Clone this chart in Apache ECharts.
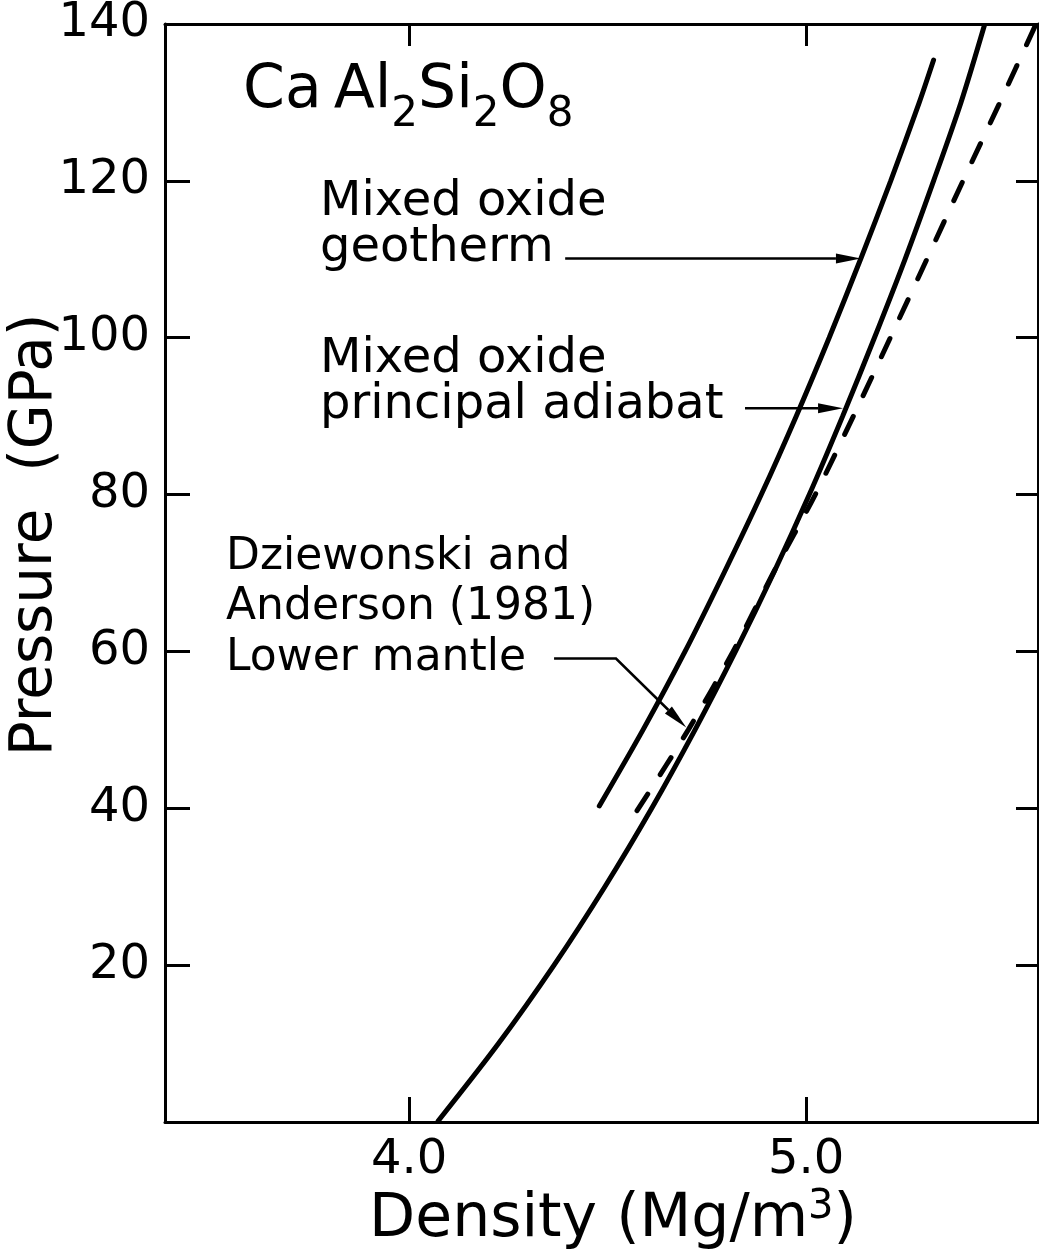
<!DOCTYPE html>
<html>
<head>
<meta charset="utf-8">
<title>CaAl2Si2O8 density vs pressure</title>
<script src="https://cdn.jsdelivr.net/npm/echarts@6/dist/echarts.min.js"></script>
<style>
  html, body { margin: 0; padding: 0; background: #fff; }
  #chart { width: 1039px; height: 1254px; }
</style>
</head>
<body>
<div id="chart"></div>
<script>
// Mixed oxide principal adiabat (Mg/m^3, GPa)
const adiabatDensity  = [4.071, 4.225, 4.365, 4.493, 4.611, 4.720, 4.822, 4.918, 5.008, 5.092, 5.172, 5.249, 5.321, 5.390, 5.450];
const adiabatPressure = [0,     10,    20,    30,    40,    50,    60,    70,    80,    90,    100,   110,   120,   130,   140];

// Mixed oxide geotherm
const geothermDensity  = [4.479, 4.589, 4.695, 4.793, 4.887, 4.975, 5.058, 5.137, 5.213, 5.285, 5.321];
const geothermPressure = [40.3,  50,    60,    70,    80,    90,    100,   110,   120,   130,   135.4];

// Dziewonski and Anderson (1981) lower mantle
const mantleDensity  = [4.574, 4.703, 4.816, 4.917, 5.023, 5.119, 5.212, 5.304, 5.395, 5.488, 5.579];
const mantlePressure = [39.7,  50,    60,    70,    80,    90,    100,   110,   120,   130,   140];

// Axis ticks
const densityTicks  = [4.0, 5.0];
const pressureTicks = [20, 40, 60, 80, 100, 120, 140];

// Leader arrows for the labels (data coordinates, last point is the tip)
const geothermArrow = [[4.393, 110.1], [5.138, 110.1]];
const adiabatArrow  = [[4.846, 91.0], [5.093, 91.0]];
const mantleArrow   = [[4.365, 59.1], [4.521, 59.1], [4.698, 50.3]];
const arrowPaths = [geothermArrow, adiabatArrow, mantleArrow];

const FONT = 'DejaVu Sans';
const zip = (xs, ys) => xs.map((x, i) => [x, ys[i]]);

const chart = echarts.init(document.getElementById('chart'), null, { renderer: 'canvas' });

const xRange = { min: 3.385, max: 5.584 };
const yRange = { min: 0, max: 140, interval: 20 };
const axisLine = { show: true, onZero: false, lineStyle: { color: '#000', width: 3 } };

chart.setOption({
  backgroundColor: '#fff',
  animation: false,
  grid: { left: 165, top: 22, right: 1, bottom: 132, containLabel: false },
  xAxis: [
    {
      type: 'value', position: 'bottom', ...xRange,
      axisLine,
      splitLine: { show: false },
      axisTick: { show: true, inside: true, length: 25, customValues: densityTicks, lineStyle: { color: '#000', width: 3 } },
      axisLabel: { show: true, customValues: densityTicks, margin: 15, color: '#000', fontFamily: FONT, fontSize: 48,
                   formatter: v => v.toFixed(1) }
    },
    {
      type: 'value', position: 'top', ...xRange,
      axisLine,
      splitLine: { show: false },
      axisTick: { show: true, inside: true, length: 22, customValues: densityTicks, lineStyle: { color: '#000', width: 3 } },
      axisLabel: { show: false }
    }
  ],
  yAxis: [
    {
      type: 'value', position: 'left', ...yRange,
      axisLine,
      splitLine: { show: false },
      axisTick: { show: true, inside: true, length: 25, customValues: pressureTicks, lineStyle: { color: '#000', width: 3 } },
      axisLabel: { show: true, customValues: pressureTicks, margin: 15, color: '#000', fontFamily: FONT, fontSize: 48 }
    },
    {
      type: 'value', position: 'right', ...yRange,
      axisLine,
      splitLine: { show: false },
      axisTick: { show: true, inside: true, length: 22, customValues: pressureTicks, lineStyle: { color: '#000', width: 3 } },
      axisLabel: { show: false }
    }
  ],
  series: [
    {
      name: 'Mixed oxide principal adiabat', type: 'line', xAxisIndex: 0, yAxisIndex: 0,
      data: zip(adiabatDensity, adiabatPressure),
      showSymbol: false, smooth: 0.3, clip: true,
      lineStyle: { color: '#000', width: 5 }
    },
    {
      name: 'Mixed oxide geotherm', type: 'line', xAxisIndex: 0, yAxisIndex: 0,
      data: zip(geothermDensity, geothermPressure),
      showSymbol: false, smooth: 0.3,
      lineStyle: { color: '#000', width: 5, cap: 'round' }
    },
    {
      name: 'Dziewonski and Anderson (1981) lower mantle', type: 'line', xAxisIndex: 0, yAxisIndex: 0,
      data: zip(mantleDensity, mantlePressure),
      showSymbol: false, smooth: 0.3, clip: false,
      lineStyle: { color: '#000', width: 5, type: [20, 23], cap: 'round' }
    },
    {
      name: 'leaders', type: 'custom', coordinateSystem: 'cartesian2d', xAxisIndex: 0, yAxisIndex: 0,
      data: arrowPaths.map(p => p[0]),
      clip: false, silent: true,
      renderItem(params, api) {
        const pts = arrowPaths[params.dataIndex].map(p => api.coord(p));
        const n = pts.length;
        const [tx, ty] = pts[n - 1];
        const [px, py] = pts[n - 2];
        const ang = Math.atan2(ty - py, tx - px);
        const headLen = 25, halfW = 5;
        const bx = tx - headLen * Math.cos(ang), by = ty - headLen * Math.sin(ang);
        const nx = -Math.sin(ang) * halfW, ny = Math.cos(ang) * halfW;
        return {
          type: 'group',
          children: [
            { type: 'polyline', shape: { points: pts.slice(0, -1).concat([[bx, by]]) },
              style: { stroke: '#000', lineWidth: 2.5, fill: null } },
            { type: 'polygon', shape: { points: [[tx, ty], [bx + nx, by + ny], [bx - nx, by - ny]] },
              style: { fill: '#000' } }
          ]
        };
      }
    }
  ],
  graphic: [
    {
      type: 'text', x: 243, y: 61,
      style: {
        text: '{m|Ca\u2009Al}{s|2}{m|Si}{s|2}{m|O}{s|8}',
        align: 'left', verticalAlign: 'top', fill: '#000',
        rich: {
          m: { fontFamily: FONT, fontSize: 60, padding: [0, 0, 15, 0], verticalAlign: 'bottom', fill: '#000' },
          s: { fontFamily: FONT, fontSize: 42, verticalAlign: 'bottom', fill: '#000' }
        }
      }
    },
    {
      type: 'text', x: 320, y: 180,
      style: { text: 'Mixed oxide\ngeotherm', fontFamily: FONT, fontSize: 48, lineHeight: 46,
               align: 'left', verticalAlign: 'top', fill: '#000' }
    },
    {
      type: 'text', x: 320, y: 337,
      style: { text: 'Mixed oxide\nprincipal adiabat', fontFamily: FONT, fontSize: 48, lineHeight: 46,
               align: 'left', verticalAlign: 'top', fill: '#000' }
    },
    {
      type: 'text', x: 226, y: 532,
      style: { text: 'Dziewonski and\nAnderson (1981)\nLower mantle', fontFamily: FONT, fontSize: 44, lineHeight: 50.5,
               align: 'left', verticalAlign: 'top', fill: '#000' }
    },
    {
      type: 'text', x: 36, y: 535, rotation: Math.PI / 2,
      style: { text: 'Pressure  (GPa)', fontFamily: FONT, fontSize: 58,
               align: 'center', verticalAlign: 'middle', fill: '#000' }
    },
    {
      type: 'text', x: 613, y: 1250,
      style: {
        text: '{m|Density (Mg/m}{p|3}{m|)}',
        align: 'center', verticalAlign: 'bottom', fill: '#000',
        rich: {
          m: { fontFamily: FONT, fontSize: 60, verticalAlign: 'bottom', fill: '#000' },
          p: { fontFamily: FONT, fontSize: 40, padding: [0, 0, 22, 0], verticalAlign: 'bottom', fill: '#000' }
        }
      }
    }
  ]
});
</script>
</body>
</html>
